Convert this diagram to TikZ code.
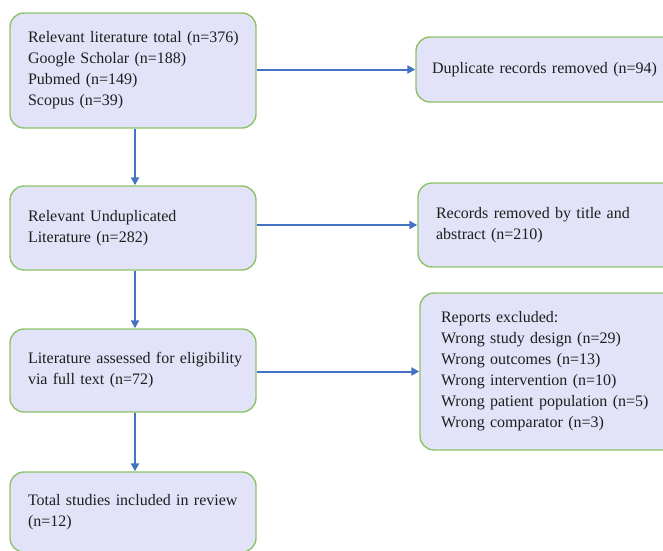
\documentclass[tikz,border=0pt]{standalone}
\usepackage{fontspec}
\setmainfont{Liberation Serif}
\usetikzlibrary{arrows.meta}
\definecolor{boxfill}{RGB}{226,227,248}
\definecolor{boxline}{RGB}{140,195,105}
\definecolor{arrowblue}{RGB}{68,114,196}
\definecolor{txt}{RGB}{30,30,30}
\tikzset{
  flowbox/.style={draw=boxline, fill=boxfill, line width=1.4pt, rounded corners=14pt,
    align=left, text=txt, font=\fontsize{16}{21}\selectfont, inner ysep=0pt},
  flowarrow/.style={draw=arrowblue, line width=2pt, -{Triangle[length=8pt,width=8pt]}}
}
\begin{document}
\begin{tikzpicture}[x=1pt,y=-1pt]
\useasboundingbox (0,0) rectangle (663,550);
\node[flowbox, minimum width=246pt, minimum height=115pt, inner xsep=18pt, text width=210pt] (b1) at (133,70.5)
  {\mbox{Relevant literature total (n=376)}\\Google Scholar (n=188)\\Pubmed (n=149)\\Scopus (n=39)};
\node[flowbox, minimum width=264pt, minimum height=65pt, inner xsep=16pt, text width=232pt] (b2) at (548,69.5)
  {\mbox{Duplicate records removed (n=94)}};
\node[flowbox, minimum width=246pt, minimum height=84pt, inner xsep=18pt, text width=210pt] (b3) at (133,228)
  {Relevant Unduplicated\\Literature (n=282)};
\node[flowbox, minimum width=262pt, minimum height=84pt, inner xsep=18pt, text width=226pt] (b4) at (549,225)
  {\mbox{Records removed by title and}\\abstract (n=210)};
\node[flowbox, minimum width=246pt, minimum height=83pt, inner xsep=18pt, text width=210pt] (b5) at (133,370.5)
  {\mbox{Literature assessed for eligibility}\\via full text (n=72)};
\node[flowbox, minimum width=260pt, minimum height=157pt, inner xsep=21pt, text width=218pt] (b6) at (550,371.5)
  {Reports excluded:\\Wrong study design (n=29)\\Wrong outcomes (n=13)\\Wrong intervention (n=10)\\\mbox{Wrong patient population (n=5)}\\Wrong comparator (n=3)};
\node[flowbox, minimum width=246pt, minimum height=80pt, inner xsep=18pt, text width=210pt] (b7) at (133,512)
  {\mbox{Total studies included in review}\\(n=12)};
\draw[flowarrow] ([xshift=2pt]b1.south) -- ([xshift=2pt]b3.north);
\draw[flowarrow] ([xshift=2pt]b3.south) -- ([xshift=2pt]b5.north);
\draw[flowarrow] ([xshift=2pt]b5.south) -- ([xshift=2pt]b7.north);
\draw[flowarrow] (b1.east |- b2.west) -- (b2.west);
\draw[flowarrow] (b3.east |- b4.west) -- (b4.west);
\draw[flowarrow] (b5.east |- b6.west) -- (b6.west);
\end{tikzpicture}
\end{document}
